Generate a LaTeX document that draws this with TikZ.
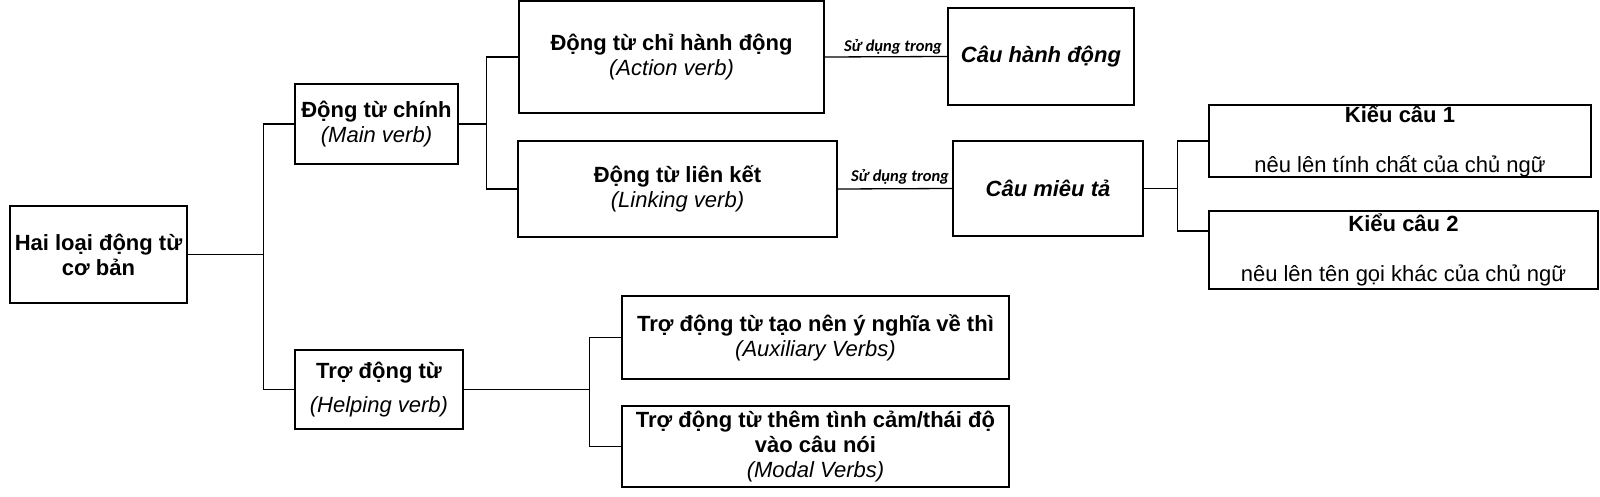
\documentclass[tikz,border=0pt]{standalone}
\usepackage{fontspec}
\setmainfont{Liberation Sans}
\newfontfamily\lblfont{Carlito}
\usetikzlibrary{positioning}
\begin{document}
\begin{tikzpicture}[x=1pt,y=-1pt,
  box/.style={draw=black, line width=1.3pt, rectangle, inner sep=0pt, align=center,
    font=\fontsize{22}{25}\selectfont},
  conn/.style={draw=black, line width=1.3pt},
  lbl/.style={font=\lblfont\bfseries\itshape\fontsize{16.5}{18}\selectfont, inner sep=2pt}
]
\useasboundingbox (0,0) rectangle (1600,497);

% nodes
\node[box, minimum width=177pt, minimum height=97pt] (root) at (98.5,254.5)
  {\textbf{Hai loại động từ}\\\textbf{cơ bản}};
\node[box, minimum width=163pt, minimum height=80pt] (main) at (376.5,124)
  {\textbf{Động từ chính}\\\textit{(Main verb)}};
\node[box, minimum width=168pt, minimum height=79pt] (help) at (379,389.5)
  {\textbf{Trợ động từ}\\[9pt]\textit{(Helping verb)}};
\node[box, minimum width=305pt, minimum height=112pt] (action) at (671.5,57)
  {\textbf{Động từ chỉ hành động}\\\textit{(Action verb)}};
\node[box, minimum width=319pt, minimum height=96pt] (linking) at (677.5,189)
  {\textbf{Động từ liên kết}\\\textit{(Linking verb)}};
\node[box, minimum width=186pt, minimum height=97pt] (cauhd) at (1041,56.5)
  {\textbf{\textit{Câu hành động}}};
\node[box, minimum width=190pt, minimum height=95pt] (caumt) at (1048,188.5)
  {\textbf{\textit{Câu miêu tả}}};
\node[box, minimum width=382pt, minimum height=72pt] (kieu1) at (1400,141)
  {\textbf{Kiểu câu 1}\\[24.5pt]nêu lên tính chất của chủ ngữ};
\node[box, minimum width=389pt, minimum height=78pt] (kieu2) at (1403.5,250)
  {\textbf{Kiểu câu 2}\\[24.5pt]nêu lên tên gọi khác của chủ ngữ};
\node[box, minimum width=387pt, minimum height=83pt] (aux) at (815.5,337.5)
  {\textbf{Trợ động từ tạo nên ý nghĩa về thì}\\\textit{(Auxiliary Verbs)}};
\node[box, minimum width=387pt, minimum height=81pt] (modal) at (815.5,446.5)
  {\textbf{Trợ động từ thêm tình cảm/thái độ}\\\textbf{vào câu nói}\\\textit{(Modal Verbs)}};

% connectors
\draw[conn] (root.east) -- ++(76,0) |- (main.west);
\draw[conn] (root.east) -- ++(76,0) |- (help.west);
\draw[conn] (main.east) -- ++(28,0) |- (action.west);
\draw[conn] (main.east) -- ++(28,0) |- (linking.west);
\draw[conn] (help.east) -- ++(126,0) |- (aux.west);
\draw[conn] (help.east) -- ++(126,0) |- (modal.west);
\draw[conn] (caumt.east) -- ++(34,0) |- (kieu1.west);
\draw[conn] (caumt.east) -- ++(34,0) |- ([yshift=19pt]kieu2.west);
\draw[conn] (action.east) -- node[lbl, above, xshift=7pt] {Sử dụng trong} (cauhd.west);
\draw[conn] (linking.east) -- node[lbl, above, xshift=5pt, yshift=2pt] {Sử dụng trong} (caumt.west);
\end{tikzpicture}
\end{document}
